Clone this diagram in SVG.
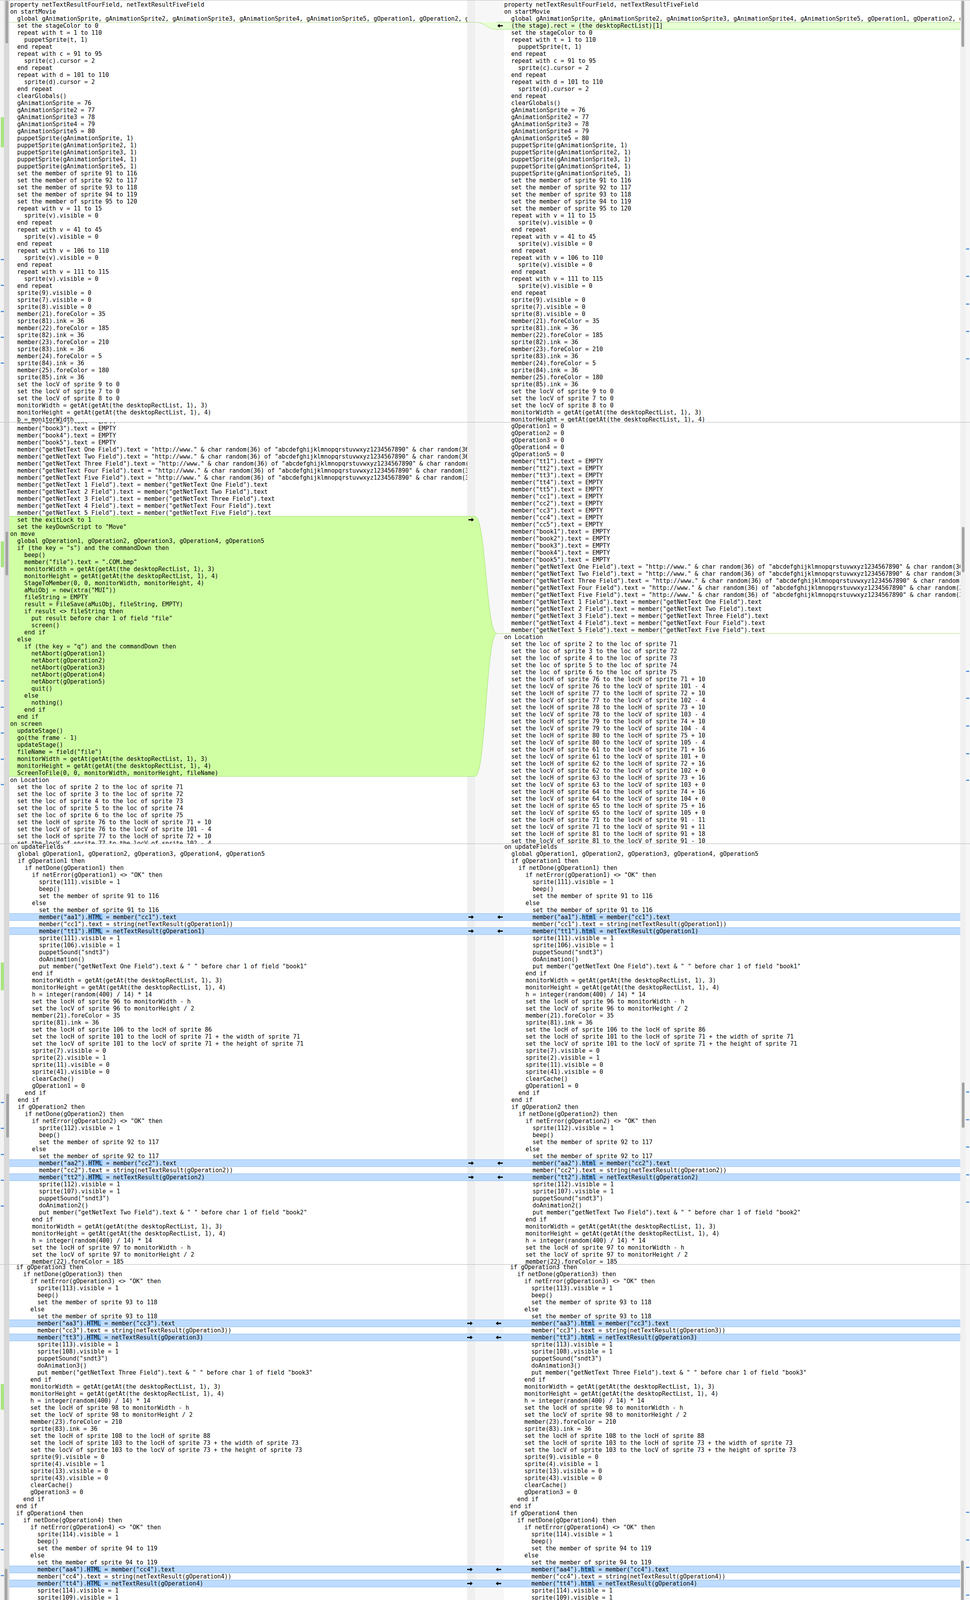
<svg xmlns="http://www.w3.org/2000/svg" xmlns:xlink="http://www.w3.org/1999/xlink" width="2483" height="7058" viewBox="0 0 2483 7058">
<style>
text{font-family:"DejaVu Sans Mono","Liberation Mono",monospace;font-size:15px;fill:#000;white-space:pre}
.gf{fill:#d0ffa3}.pf{fill:#e6ffd3}.bf{fill:#bedcff}.lf{fill:#dcecfd}
.go{stroke:#98dc66;stroke-width:1;fill:none}.bo{stroke:#86b6ec;stroke-width:1;fill:none}
.i{fill:#8cc1fa}.th{fill:#a3a3a3}.mk{fill:#4c8fdc}.mg{fill:#a8e67e}
.nl{stroke:#b0b0b0;stroke-width:1;fill:none}
</style>
<defs>
<path id="ar" d="M-7,-1.6 H1 V-5 L7,0 L1,5 V1.6 H-7 Z" fill="#000"/>
<path id="al" d="M7,-1.6 H-1 V-5 L-7,0 L-1,5 V1.6 H7 Z" fill="#000"/>
<path id="nl" d="M30,-3 V1 H3 M7,-2 L3,1 L7,4"/>
<clipPath id="cl1"><rect x="24" y="0" width="1172" height="1081"/></clipPath>
<clipPath id="cr1"><rect x="1286" y="0" width="1172" height="1081"/></clipPath>
<clipPath id="cl2"><rect x="24" y="1081" width="1172" height="1079"/></clipPath>
<clipPath id="cr2"><rect x="1286" y="1081" width="1172" height="1079"/></clipPath>
<clipPath id="cl3"><rect x="24" y="2160" width="1172" height="1077"/></clipPath>
<clipPath id="cr3"><rect x="1286" y="2160" width="1172" height="1077"/></clipPath>
<clipPath id="cl4"><rect x="20" y="3237" width="1173" height="1078"/></clipPath>
<clipPath id="cr4"><rect x="1284" y="3237" width="1172" height="1078"/></clipPath>
<clipPath id="cl5"><rect x="24" y="4315" width="1172" height="1078"/></clipPath>
<clipPath id="cr5"><rect x="1286" y="4315" width="1172" height="1078"/></clipPath>
<clipPath id="cl6"><rect x="24" y="5393" width="1172" height="390"/></clipPath>
<clipPath id="cr6"><rect x="1286" y="5393" width="1172" height="390"/></clipPath>
<clipPath id="cl7"><rect x="24" y="5783" width="1172" height="197"/></clipPath>
<clipPath id="cr7"><rect x="1286" y="5783" width="1172" height="197"/></clipPath>
<clipPath id="cl8"><rect x="28" y="5980" width="1168" height="1078"/></clipPath>
<clipPath id="cr8"><rect x="1290" y="5980" width="1168" height="1078"/></clipPath>
</defs>

<g id="chrome">
<rect x="0" y="0" width="2483" height="7058" fill="#ffffff"/>
<rect x="0" y="0" width="10" height="7058" fill="#f3f3f3"/>
<rect x="10" y="0" width="14" height="7058" fill="#d9d9d9"/>
<rect x="1196" y="0" width="20" height="7058" fill="#efefef"/>
<rect x="1216" y="0" width="74" height="7058" fill="#f7f7f7"/>
<rect x="2458" y="0" width="14" height="7058" fill="#f0f0f0"/>
<rect x="2472" y="0" width="11" height="7058" fill="#f6f6f6"/>
<rect class="th" x="14" y="2" width="7" height="109" rx="3"/>
<rect class="th" x="2461" y="2" width="7" height="118" rx="3"/>
<rect class="th" x="14" y="1361" width="7" height="112" rx="3"/>
<rect class="th" x="2462" y="1349" width="7" height="116" rx="3"/>
<rect class="th" x="16" y="2800" width="7" height="112" rx="3"/>
<rect class="th" x="2462" y="2771" width="7" height="116" rx="3"/>
<rect class="th" x="12" y="4016" width="7" height="107" rx="3"/>
<rect class="th" x="2460" y="3995" width="7" height="116" rx="3"/>
<rect class="th" x="16" y="5214" width="7" height="112" rx="3"/>
<rect class="th" x="2462" y="5202" width="7" height="116" rx="3"/>
<rect class="th" x="17" y="6134" width="7" height="924" rx="3"/>
<rect class="th" x="2465" y="6494" width="7" height="468" rx="3"/>
<g id="overview-markers">
<rect class="mg" x="2" y="300" width="8" height="77"/>
<rect class="mg" x="2" y="1386" width="8" height="66"/>
<rect class="mg" x="2" y="2464" width="8" height="71"/>
<rect class="mg" x="2" y="3543" width="8" height="66"/>
<rect class="mg" x="2" y="4617" width="8" height="71"/>
<rect class="mk" x="2" y="663" width="8" height="3"/><rect class="mk" x="2" y="729" width="8" height="3"/><rect class="mk" x="2" y="796" width="8" height="3"/><rect class="mk" x="2" y="862" width="8" height="3"/><rect class="mk" x="2" y="928" width="8" height="3"/>
<rect class="mk" x="2" y="1742" width="8" height="3"/><rect class="mk" x="2" y="1809" width="8" height="3"/><rect class="mk" x="2" y="1875" width="8" height="3"/><rect class="mk" x="2" y="1942" width="8" height="3"/><rect class="mk" x="2" y="2007" width="8" height="3"/>
<rect class="mk" x="2" y="2821" width="8" height="3"/><rect class="mk" x="2" y="2887" width="8" height="3"/><rect class="mk" x="2" y="2954" width="8" height="3"/><rect class="mk" x="2" y="3020" width="8" height="3"/><rect class="mk" x="2" y="3086" width="8" height="3"/>
<rect class="mk" x="2" y="3900" width="8" height="3"/><rect class="mk" x="2" y="3966" width="8" height="3"/><rect class="mk" x="2" y="4032" width="8" height="3"/><rect class="mk" x="2" y="4099" width="8" height="3"/><rect class="mk" x="2" y="4161" width="8" height="3"/>
<rect class="mk" x="2" y="4974" width="8" height="3"/><rect class="mk" x="2" y="5040" width="8" height="3"/><rect class="mk" x="2" y="5107" width="8" height="3"/><rect class="mk" x="2" y="5173" width="8" height="3"/><rect class="mk" x="2" y="5239" width="8" height="3"/>
<rect class="mk" x="2473" y="636" width="8" height="3"/><rect class="mk" x="2473" y="706" width="8" height="3"/><rect class="mk" x="2473" y="777" width="8" height="3"/><rect class="mk" x="2473" y="847" width="8" height="3"/><rect class="mk" x="2473" y="917" width="8" height="3"/>
<rect class="mk" x="2473" y="1717" width="8" height="3"/><rect class="mk" x="2473" y="1786" width="8" height="3"/><rect class="mk" x="2473" y="1857" width="8" height="3"/><rect class="mk" x="2473" y="1928" width="8" height="3"/><rect class="mk" x="2473" y="1996" width="8" height="3"/>
<rect class="mk" x="2473" y="2794" width="8" height="3"/><rect class="mk" x="2473" y="2865" width="8" height="3"/><rect class="mk" x="2473" y="2935" width="8" height="3"/><rect class="mk" x="2473" y="3006" width="8" height="3"/><rect class="mk" x="2473" y="3076" width="8" height="3"/>
<rect class="mk" x="2473" y="3870" width="8" height="3"/><rect class="mk" x="2473" y="3941" width="8" height="3"/><rect class="mk" x="2473" y="4011" width="8" height="3"/><rect class="mk" x="2473" y="4082" width="8" height="3"/><rect class="mk" x="2473" y="4151" width="8" height="3"/>
<rect class="mk" x="2473" y="4947" width="8" height="3"/><rect class="mk" x="2473" y="5018" width="8" height="3"/><rect class="mk" x="2473" y="5088" width="8" height="3"/><rect class="mk" x="2473" y="5159" width="8" height="3"/><rect class="mk" x="2473" y="5228" width="8" height="3"/>
</g>
<path d="M0 0.5H2483 M0 1081H2483 M0 2160H2483 M0 3237H2483 M0 4315H2483 M0 5393H2483 M0 5783H2483 M0 5980H2483" stroke="#c6c6c6" stroke-width="1.5" fill="none"/>
</g>

<g id="highlights">
<rect class="pf" x="1272" y="57" width="1186" height="18"/>
<path class="go" d="M24 57H1216 M1272 57H2458 M1272 75H2458"/>
<rect class="gf" x="24" y="1321.6" width="1192" height="666"/>
<path class="go" d="M24 1321.6H1216 M24 1987.6H1216 M1272 1621.8H2458"/>
<rect class="bf" x="24" y="2338.7" width="2434" height="18"/><rect class="bf" x="24" y="2374.7" width="2434" height="18"/>
<rect class="bf" x="24" y="2968.7" width="2434" height="18"/><rect class="bf" x="24" y="3004.7" width="2434" height="18"/>
<rect class="bf" x="24" y="3378.8" width="2434" height="18"/><rect class="bf" x="24" y="3414.8" width="2434" height="18"/>
<rect class="bf" x="24" y="4008.8" width="2434" height="18"/><rect class="bf" x="24" y="4044.8" width="2434" height="18"/>
<rect class="bf" x="24" y="4537.7" width="2434" height="18"/><rect class="bf" x="24" y="4573.7" width="2434" height="18"/>
<path class="bo" d="M24 2338.7H2458M24 2356.7H2458M24 2374.7H2458M24 2392.7H2458M24 2968.7H2458M24 2986.7H2458M24 3004.7H2458M24 3022.7H2458M24 3378.8H2458M24 3396.8H2458M24 3414.8H2458M24 3432.8H2458M24 4008.8H2458M24 4026.8H2458M24 4044.8H2458M24 4062.8H2458M24 4537.7H2458M24 4555.7H2458M24 4573.7H2458M24 4591.7H2458"/>
<rect class="lf" x="24" y="5411.6" width="1192" height="18"/><rect class="lf" x="1272" y="5411.6" width="1186" height="36"/>
<rect class="gf" x="1272" y="5465.6" width="1186" height="18"/>
<rect class="bf" x="24" y="5483.6" width="1192" height="18"/><rect class="bf" x="1272" y="5519.6" width="1186" height="18"/>
<rect class="bf" x="24" y="5519.6" width="1192" height="198"/><rect class="bf" x="1272" y="5555.6" width="1186" height="162"/>
<path class="bo" d="M24 5411.6H1216M24 5429.6H1216M1272 5411.6H2458M1272 5447.6H2458M24 5483.6H1216M24 5501.6H1216M1272 5519.6H2458M1272 5537.6H2458M24 5519.6H1216M24 5717.6H1216M1272 5555.6H2458M1272 5717.6H2458"/>
<path class="go" d="M24 5447.6H1216M1272 5465.6H2458M1272 5483.6H2458"/>
<rect class="lf" x="24" y="5815.8" width="1192" height="18"/><rect class="lf" x="1272" y="5815.8" width="1186" height="36"/>
<rect class="gf" x="1272" y="5869.8" width="1186" height="18"/>
<path class="bo" d="M24 5815.8H1216M24 5833.8H1216M1272 5815.8H2458M1272 5851.8H2458"/>
<path class="go" d="M24 5851.8H1216M1272 5869.8H2458M1272 5887.8H2458"/>
<rect class="lf" x="28" y="6737.7" width="1198" height="18"/>
<path class="bo" d="M28 6737.7H1226M28 6755.7H1226"/>
<rect class="gf" x="1277" y="6101.4" width="1181" height="956.6"/>
<path class="go" d="M1277 6101.4H2458M28 7043.7H1221"/>
</g>

<g id="connectors">
<path class="pf" d="M1216 57 C1244 57 1244 57 1272 57 L1272 75 C1244 75 1244 57 1216 57 Z"/>
<path class="go" d="M1216 57 C1244 57 1244 75 1272 75"/>
<path class="gf" d="M1216 1321.6 C1244 1321.6 1244 1621.8 1272 1621.8 C1244 1621.8 1244 1987.6 1216 1987.6 Z"/>
<path class="go" d="M1216 1321.6 C1244 1321.6 1244 1621.8 1272 1621.8 M1216 1987.6 C1244 1987.6 1244 1621.8 1272 1621.8"/>
<path class="lf" d="M1216 5411.6 C1244 5411.6 1244 5411.6 1272 5411.6 L1272 5447.6 C1244 5447.6 1244 5429.6 1216 5429.6 Z"/>
<path class="bo" d="M1216 5411.6 H1272 M1216 5429.6 C1244 5429.6 1244 5447.6 1272 5447.6"/>
<path class="gf" d="M1216 5447.6 C1244 5447.6 1244 5465.6 1272 5465.6 L1272 5483.6 C1244 5483.6 1244 5447.6 1216 5447.6 Z"/>
<path class="go" d="M1216 5447.6 C1244 5447.6 1244 5465.6 1272 5465.6 M1216 5447.6 C1244 5447.6 1244 5483.6 1272 5483.6"/>
<path class="bf" d="M1216 5483.6 C1244 5483.6 1244 5519.6 1272 5519.6 L1272 5537.6 C1244 5537.6 1244 5501.6 1216 5501.6 Z"/>
<path class="bo" d="M1216 5483.6 C1244 5483.6 1244 5519.6 1272 5519.6 M1216 5501.6 C1244 5501.6 1244 5537.6 1272 5537.6"/>
<path class="bf" d="M1216 5519.6 C1244 5519.6 1244 5555.6 1272 5555.6 L1272 5717.6 L1216 5717.6 Z"/>
<path class="bo" d="M1216 5519.6 C1244 5519.6 1244 5555.6 1272 5555.6 M1216 5717.6 H1272"/>
<path class="lf" d="M1216 5815.8 H1272 L1272 5851.8 C1244 5851.8 1244 5833.8 1216 5833.8 Z"/>
<path class="bo" d="M1216 5815.8 H1272 M1216 5833.8 C1244 5833.8 1244 5851.8 1272 5851.8"/>
<path class="gf" d="M1216 5851.8 C1244 5851.8 1244 5869.8 1272 5869.8 L1272 5887.8 C1244 5887.8 1244 5851.8 1216 5851.8 Z"/>
<path class="go" d="M1216 5851.8 C1244 5851.8 1244 5869.8 1272 5869.8 M1216 5851.8 C1244 5851.8 1244 5887.8 1272 5887.8"/>
<path class="gf" d="M1221 7043.7 C1249 7043.7 1249 6101.4 1277 6101.4 L1277 7650 C1249 7650 1249 7043.7 1221 7043.7 Z"/>
<path class="go" d="M1221 7043.7 C1249 7043.7 1249 6101.4 1277 6101.4"/>
</g>

<g id="inline-changes">
<rect class="i" x="226.2" y="2339.2" width="36.1" height="17"/><rect class="i" x="226.2" y="2375.2" width="36.1" height="17"/>
<rect class="i" x="226.2" y="2969.2" width="36.1" height="17"/><rect class="i" x="226.2" y="3005.2" width="36.1" height="17"/>
<rect class="i" x="1489.7" y="2339.2" width="36.1" height="17"/><rect class="i" x="1489.7" y="2375.2" width="36.1" height="17"/>
<rect class="i" x="1489.7" y="2969.2" width="36.1" height="17"/><rect class="i" x="1489.7" y="3005.2" width="36.1" height="17"/>
<rect class="i" x="222.2" y="3379.3" width="36.1" height="17"/><rect class="i" x="222.2" y="3415.3" width="36.1" height="17"/>
<rect class="i" x="222.2" y="4009.3" width="36.1" height="17"/><rect class="i" x="222.2" y="4045.3" width="36.1" height="17"/>
<rect class="i" x="1486.7" y="3379.3" width="36.1" height="17"/><rect class="i" x="1486.7" y="3415.3" width="36.1" height="17"/>
<rect class="i" x="1486.7" y="4009.3" width="36.1" height="17"/><rect class="i" x="1486.7" y="4045.3" width="36.1" height="17"/>
<rect class="i" x="226.2" y="4538.2" width="36.1" height="17"/><rect class="i" x="226.2" y="4574.2" width="36.1" height="17"/>
<rect class="i" x="1489.7" y="4538.2" width="36.1" height="17"/><rect class="i" x="1489.7" y="4574.2" width="36.1" height="17"/>
<rect class="i" x="108.8" y="5412.1" width="36.1" height="17"/><rect class="i" x="172" y="5412.1" width="72.2" height="17"/>
<rect class="i" x="199.1" y="5484.1" width="9" height="17"/>
<rect class="i" x="27.5" y="5520.1" width="478.6" height="17"/>
<rect class="i" x="27.5" y="5538.1" width="225.8" height="17"/>
<rect class="i" x="27.5" y="5556.1" width="36.1" height="17"/><rect class="i" x="126.8" y="5556.1" width="9" height="17"/>
<rect class="i" x="135.9" y="5574.1" width="9" height="17"/>
<rect class="i" x="298.4" y="5592.1" width="9" height="17"/><rect class="i" x="343.6" y="5592.1" width="27.1" height="17"/>
<rect class="i" x="135.9" y="5610.1" width="9" height="17"/>
<rect class="i" x="135.9" y="5628.1" width="9" height="17"/>
<rect class="i" x="235.2" y="5646.1" width="27.1" height="17"/>
<rect class="i" x="235.2" y="5664.1" width="9" height="17"/><rect class="i" x="560.3" y="5664.1" width="27.1" height="17"/>
<rect class="i" x="433.9" y="5682.1" width="27.1" height="17"/>
<rect class="i" x="153.9" y="5700.1" width="9" height="17"/>
<rect class="i" x="1306" y="5412.1" width="66.3" height="17"/>
<rect class="i" x="1372.3" y="5430.1" width="45.2" height="17"/><rect class="i" x="1444.5" y="5430.1" width="18.1" height="17"/>
<rect class="i" x="1462.6" y="5520.1" width="9" height="17"/>
<rect class="i" x="1390.3" y="5556.1" width="9" height="17"/>
<rect class="i" x="1399.4" y="5574.1" width="9" height="17"/>
<rect class="i" x="1561.9" y="5592.1" width="9" height="17"/><rect class="i" x="1607.1" y="5592.1" width="27.1" height="17"/>
<rect class="i" x="1399.4" y="5610.1" width="9" height="17"/>
<rect class="i" x="1399.4" y="5628.1" width="9" height="17"/>
<rect class="i" x="1498.7" y="5646.1" width="36.1" height="17"/>
<rect class="i" x="1498.7" y="5664.1" width="9" height="17"/><rect class="i" x="1823.8" y="5664.1" width="36.1" height="17"/>
<rect class="i" x="1697.4" y="5682.1" width="36.1" height="17"/>
<rect class="i" x="1417.4" y="5700.1" width="9" height="17"/>
<rect class="i" x="108.8" y="5816.3" width="36.1" height="17"/><rect class="i" x="172" y="5816.3" width="72.2" height="17"/>
<rect class="i" x="1306.5" y="5816.3" width="66.3" height="17"/>
<rect class="i" x="1372.8" y="5834.3" width="45.2" height="17"/><rect class="i" x="1445" y="5834.3" width="18.1" height="17"/>
<rect class="i" x="113.8" y="6738.2" width="36.1" height="17"/><rect class="i" x="177" y="6738.2" width="72.2" height="17"/>
</g>

<g id="panel1-left" clip-path="url(#cl1)"><text xml:space="preserve">
<tspan x="26" y="17">property netTextResultFourField, netTextResultFiveField</tspan>
<tspan x="26" y="35">on startMovie</tspan>
<tspan x="26" y="53">  global gAnimationSprite, gAnimationSprite2, gAnimationSprite3, gAnimationSprite4, gAnimationSprite5, gOperation1, gOperation2, g</tspan>
<tspan x="26" y="71">  set the stageColor to 0</tspan>
<tspan x="26" y="89">  repeat with t = 1 to 110</tspan>
<tspan x="26" y="107">    puppetSprite(t, 1)</tspan>
<tspan x="26" y="125">  end repeat</tspan>
<tspan x="26" y="143">  repeat with c = 91 to 95</tspan>
<tspan x="26" y="161">    sprite(c).cursor = 2</tspan>
<tspan x="26" y="179">  end repeat</tspan>
<tspan x="26" y="197">  repeat with d = 101 to 110</tspan>
<tspan x="26" y="215">    sprite(d).cursor = 2</tspan>
<tspan x="26" y="233">  end repeat</tspan>
<tspan x="26" y="251">  clearGlobals()</tspan>
<tspan x="26" y="269">  gAnimationSprite = 76</tspan>
<tspan x="26" y="287">  gAnimationSprite2 = 77</tspan>
<tspan x="26" y="305">  gAnimationSprite3 = 78</tspan>
<tspan x="26" y="323">  gAnimationSprite4 = 79</tspan>
<tspan x="26" y="341">  gAnimationSprite5 = 80</tspan>
<tspan x="26" y="359">  puppetSprite(gAnimationSprite, 1)</tspan>
<tspan x="26" y="377">  puppetSprite(gAnimationSprite2, 1)</tspan>
<tspan x="26" y="395">  puppetSprite(gAnimationSprite3, 1)</tspan>
<tspan x="26" y="413">  puppetSprite(gAnimationSprite4, 1)</tspan>
<tspan x="26" y="431">  puppetSprite(gAnimationSprite5, 1)</tspan>
<tspan x="26" y="449">  set the member of sprite 91 to 116</tspan>
<tspan x="26" y="467">  set the member of sprite 92 to 117</tspan>
<tspan x="26" y="485">  set the member of sprite 93 to 118</tspan>
<tspan x="26" y="503">  set the member of sprite 94 to 119</tspan>
<tspan x="26" y="521">  set the member of sprite 95 to 120</tspan>
<tspan x="26" y="539">  repeat with v = 11 to 15</tspan>
<tspan x="26" y="557">    sprite(v).visible = 0</tspan>
<tspan x="26" y="575">  end repeat</tspan>
<tspan x="26" y="593">  repeat with v = 41 to 45</tspan>
<tspan x="26" y="611">    sprite(v).visible = 0</tspan>
<tspan x="26" y="629">  end repeat</tspan>
<tspan x="26" y="647">  repeat with v = 106 to 110</tspan>
<tspan x="26" y="665">    sprite(v).visible = 0</tspan>
<tspan x="26" y="683">  end repeat</tspan>
<tspan x="26" y="701">  repeat with v = 111 to 115</tspan>
<tspan x="26" y="719">    sprite(v).visible = 0</tspan>
<tspan x="26" y="737">  end repeat</tspan>
<tspan x="26" y="755">  sprite(9).visible = 0</tspan>
<tspan x="26" y="773">  sprite(7).visible = 0</tspan>
<tspan x="26" y="791">  sprite(8).visible = 0</tspan>
<tspan x="26" y="809">  member(21).foreColor = 35</tspan>
<tspan x="26" y="827">  sprite(81).ink = 36</tspan>
<tspan x="26" y="845">  member(22).foreColor = 185</tspan>
<tspan x="26" y="863">  sprite(82).ink = 36</tspan>
<tspan x="26" y="881">  member(23).foreColor = 210</tspan>
<tspan x="26" y="899">  sprite(83).ink = 36</tspan>
<tspan x="26" y="917">  member(24).foreColor = 5</tspan>
<tspan x="26" y="935">  sprite(84).ink = 36</tspan>
<tspan x="26" y="953">  member(25).foreColor = 180</tspan>
<tspan x="26" y="971">  sprite(85).ink = 36</tspan>
<tspan x="26" y="989">  set the locV of sprite 9 to 0</tspan>
<tspan x="26" y="1007">  set the locV of sprite 7 to 0</tspan>
<tspan x="26" y="1025">  set the locV of sprite 8 to 0</tspan>
<tspan x="26" y="1043">  monitorWidth = getAt(getAt(the desktopRectList, 1), 3)</tspan>
<tspan x="26" y="1061">  monitorHeight = getAt(getAt(the desktopRectList, 1), 4)</tspan>
<tspan x="26" y="1079">  b = monitorWidth</tspan>
</text></g>

<g id="panel1-right" clip-path="url(#cr1)"><text xml:space="preserve">
<tspan x="1290.5" y="17">property netTextResultFourField, netTextResultFiveField</tspan>
<tspan x="1290.5" y="35">on startMovie</tspan>
<tspan x="1290.5" y="53">  global gAnimationSprite, gAnimationSprite2, gAnimationSprite3, gAnimationSprite4, gAnimationSprite5, gOperation1, gOperation2, g</tspan>
<tspan x="1290.5" y="71">  (the stage).rect = (the desktopRectList)[1]</tspan>
<tspan x="1290.5" y="89">  set the stageColor to 0</tspan>
<tspan x="1290.5" y="107">  repeat with t = 1 to 110</tspan>
<tspan x="1290.5" y="125">    puppetSprite(t, 1)</tspan>
<tspan x="1290.5" y="143">  end repeat</tspan>
<tspan x="1290.5" y="161">  repeat with c = 91 to 95</tspan>
<tspan x="1290.5" y="179">    sprite(c).cursor = 2</tspan>
<tspan x="1290.5" y="197">  end repeat</tspan>
<tspan x="1290.5" y="215">  repeat with d = 101 to 110</tspan>
<tspan x="1290.5" y="233">    sprite(d).cursor = 2</tspan>
<tspan x="1290.5" y="251">  end repeat</tspan>
<tspan x="1290.5" y="269">  clearGlobals()</tspan>
<tspan x="1290.5" y="287">  gAnimationSprite = 76</tspan>
<tspan x="1290.5" y="305">  gAnimationSprite2 = 77</tspan>
<tspan x="1290.5" y="323">  gAnimationSprite3 = 78</tspan>
<tspan x="1290.5" y="341">  gAnimationSprite4 = 79</tspan>
<tspan x="1290.5" y="359">  gAnimationSprite5 = 80</tspan>
<tspan x="1290.5" y="377">  puppetSprite(gAnimationSprite, 1)</tspan>
<tspan x="1290.5" y="395">  puppetSprite(gAnimationSprite2, 1)</tspan>
<tspan x="1290.5" y="413">  puppetSprite(gAnimationSprite3, 1)</tspan>
<tspan x="1290.5" y="431">  puppetSprite(gAnimationSprite4, 1)</tspan>
<tspan x="1290.5" y="449">  puppetSprite(gAnimationSprite5, 1)</tspan>
<tspan x="1290.5" y="467">  set the member of sprite 91 to 116</tspan>
<tspan x="1290.5" y="485">  set the member of sprite 92 to 117</tspan>
<tspan x="1290.5" y="503">  set the member of sprite 93 to 118</tspan>
<tspan x="1290.5" y="521">  set the member of sprite 94 to 119</tspan>
<tspan x="1290.5" y="539">  set the member of sprite 95 to 120</tspan>
<tspan x="1290.5" y="557">  repeat with v = 11 to 15</tspan>
<tspan x="1290.5" y="575">    sprite(v).visible = 0</tspan>
<tspan x="1290.5" y="593">  end repeat</tspan>
<tspan x="1290.5" y="611">  repeat with v = 41 to 45</tspan>
<tspan x="1290.5" y="629">    sprite(v).visible = 0</tspan>
<tspan x="1290.5" y="647">  end repeat</tspan>
<tspan x="1290.5" y="665">  repeat with v = 106 to 110</tspan>
<tspan x="1290.5" y="683">    sprite(v).visible = 0</tspan>
<tspan x="1290.5" y="701">  end repeat</tspan>
<tspan x="1290.5" y="719">  repeat with v = 111 to 115</tspan>
<tspan x="1290.5" y="737">    sprite(v).visible = 0</tspan>
<tspan x="1290.5" y="755">  end repeat</tspan>
<tspan x="1290.5" y="773">  sprite(9).visible = 0</tspan>
<tspan x="1290.5" y="791">  sprite(7).visible = 0</tspan>
<tspan x="1290.5" y="809">  sprite(8).visible = 0</tspan>
<tspan x="1290.5" y="827">  member(21).foreColor = 35</tspan>
<tspan x="1290.5" y="845">  sprite(81).ink = 36</tspan>
<tspan x="1290.5" y="863">  member(22).foreColor = 185</tspan>
<tspan x="1290.5" y="881">  sprite(82).ink = 36</tspan>
<tspan x="1290.5" y="899">  member(23).foreColor = 210</tspan>
<tspan x="1290.5" y="917">  sprite(83).ink = 36</tspan>
<tspan x="1290.5" y="935">  member(24).foreColor = 5</tspan>
<tspan x="1290.5" y="953">  sprite(84).ink = 36</tspan>
<tspan x="1290.5" y="971">  member(25).foreColor = 180</tspan>
<tspan x="1290.5" y="989">  sprite(85).ink = 36</tspan>
<tspan x="1290.5" y="1007">  set the locV of sprite 9 to 0</tspan>
<tspan x="1290.5" y="1025">  set the locV of sprite 7 to 0</tspan>
<tspan x="1290.5" y="1043">  set the locV of sprite 8 to 0</tspan>
<tspan x="1290.5" y="1061">  monitorWidth = getAt(getAt(the desktopRectList, 1), 3)</tspan>
<tspan x="1290.5" y="1079">  monitorHeight = getAt(getAt(the desktopRectList, 1), 4)</tspan>
</text></g>

<g id="panel2-left" clip-path="url(#cl2)"><text xml:space="preserve">
<tspan x="26" y="1083.6">  member("book2").text = EMPTY</tspan>
<tspan x="26" y="1101.6">  member("book3").text = EMPTY</tspan>
<tspan x="26" y="1119.6">  member("book4").text = EMPTY</tspan>
<tspan x="26" y="1137.6">  member("book5").text = EMPTY</tspan>
<tspan x="26" y="1155.6">  member("getNetText One Field").text = "http://www." &amp; char random(36) of "abcdefghijklmnopqrstuvwxyz1234567890" &amp; char random(36</tspan>
<tspan x="26" y="1173.6">  member("getNetText Two Field").text = "http://www." &amp; char random(36) of "abcdefghijklmnopqrstuvwxyz1234567890" &amp; char random(36</tspan>
<tspan x="26" y="1191.6">  member("getNetText Three Field").text = "http://www." &amp; char random(36) of "abcdefghijklmnopqrstuvwxyz1234567890" &amp; char random(</tspan>
<tspan x="26" y="1209.6">  member("getNetText Four Field").text = "http://www." &amp; char random(36) of "abcdefghijklmnopqrstuvwxyz1234567890" &amp; char random(3</tspan>
<tspan x="26" y="1227.6">  member("getNetText Five Field").text = "http://www." &amp; char random(36) of "abcdefghijklmnopqrstuvwxyz1234567890" &amp; char random(3</tspan>
<tspan x="26" y="1245.6">  member("getNetText 1 Field").text = member("getNetText One Field").text</tspan>
<tspan x="26" y="1263.6">  member("getNetText 2 Field").text = member("getNetText Two Field").text</tspan>
<tspan x="26" y="1281.6">  member("getNetText 3 Field").text = member("getNetText Three Field").text</tspan>
<tspan x="26" y="1299.6">  member("getNetText 4 Field").text = member("getNetText Four Field").text</tspan>
<tspan x="26" y="1317.6">  member("getNetText 5 Field").text = member("getNetText Five Field").text</tspan>
<tspan x="26" y="1335.6">  set the exitLock to 1</tspan>
<tspan x="26" y="1353.6">  set the keyDownScript to "Move"</tspan>
<tspan x="26" y="1371.6">on move</tspan>
<tspan x="26" y="1389.6">  global gOperation1, gOperation2, gOperation3, gOperation4, gOperation5</tspan>
<tspan x="26" y="1407.6">  if (the key = "s") and the commandDown then</tspan>
<tspan x="26" y="1425.6">    beep()</tspan>
<tspan x="26" y="1443.6">    member("file").text = ".COM.bmp"</tspan>
<tspan x="26" y="1461.6">    monitorWidth = getAt(getAt(the desktopRectList, 1), 3)</tspan>
<tspan x="26" y="1479.6">    monitorHeight = getAt(getAt(the desktopRectList, 1), 4)</tspan>
<tspan x="26" y="1497.6">    StageToMember(0, 0, monitorWidth, monitorHeight, 4)</tspan>
<tspan x="26" y="1515.6">    aMuiObj = new(xtra("MUI"))</tspan>
<tspan x="26" y="1533.6">    fileString = EMPTY</tspan>
<tspan x="26" y="1551.6">    result = FileSave(aMuiObj, fileString, EMPTY)</tspan>
<tspan x="26" y="1569.6">    if result &lt;&gt; fileString then</tspan>
<tspan x="26" y="1587.6">      put result before char 1 of field "file"</tspan>
<tspan x="26" y="1605.6">      screen()</tspan>
<tspan x="26" y="1623.6">    end if</tspan>
<tspan x="26" y="1641.6">  else</tspan>
<tspan x="26" y="1659.6">    if (the key = "q") and the commandDown then</tspan>
<tspan x="26" y="1677.6">      netAbort(gOperation1)</tspan>
<tspan x="26" y="1695.6">      netAbort(gOperation2)</tspan>
<tspan x="26" y="1713.6">      netAbort(gOperation3)</tspan>
<tspan x="26" y="1731.6">      netAbort(gOperation4)</tspan>
<tspan x="26" y="1749.6">      netAbort(gOperation5)</tspan>
<tspan x="26" y="1767.6">      quit()</tspan>
<tspan x="26" y="1785.6">    else</tspan>
<tspan x="26" y="1803.6">      nothing()</tspan>
<tspan x="26" y="1821.6">    end if</tspan>
<tspan x="26" y="1839.6">  end if</tspan>
<tspan x="26" y="1857.6">on screen</tspan>
<tspan x="26" y="1875.6">  updateStage()</tspan>
<tspan x="26" y="1893.6">  go(the frame - 1)</tspan>
<tspan x="26" y="1911.6">  updateStage()</tspan>
<tspan x="26" y="1929.6">  fileName = field("file")</tspan>
<tspan x="26" y="1947.6">  monitorWidth = getAt(getAt(the desktopRectList, 1), 3)</tspan>
<tspan x="26" y="1965.6">  monitorHeight = getAt(getAt(the desktopRectList, 1), 4)</tspan>
<tspan x="26" y="1983.6">  ScreenToFile(0, 0, monitorWidth, monitorHeight, fileName)</tspan>
<tspan x="26" y="2001.6">on Location</tspan>
<tspan x="26" y="2019.6">  set the loc of sprite 2 to the loc of sprite 71</tspan>
<tspan x="26" y="2037.6">  set the loc of sprite 3 to the loc of sprite 72</tspan>
<tspan x="26" y="2055.6">  set the loc of sprite 4 to the loc of sprite 73</tspan>
<tspan x="26" y="2073.6">  set the loc of sprite 5 to the loc of sprite 74</tspan>
<tspan x="26" y="2091.6">  set the loc of sprite 6 to the loc of sprite 75</tspan>
<tspan x="26" y="2109.6">  set the locH of sprite 76 to the locH of sprite 71 + 10</tspan>
<tspan x="26" y="2127.6">  set the locV of sprite 76 to the locV of sprite 101 - 4</tspan>
<tspan x="26" y="2145.6">  set the locH of sprite 77 to the locH of sprite 72 + 10</tspan>
<tspan x="26" y="2163.6">  set the locV of sprite 77 to the locV of sprite 102 - 4</tspan>
</text></g>

<g id="panel2-right" clip-path="url(#cr2)"><text xml:space="preserve">
<tspan x="1290.5" y="1095.8">  gOperation1 = 0</tspan>
<tspan x="1290.5" y="1113.8">  gOperation2 = 0</tspan>
<tspan x="1290.5" y="1131.8">  gOperation3 = 0</tspan>
<tspan x="1290.5" y="1149.8">  gOperation4 = 0</tspan>
<tspan x="1290.5" y="1167.8">  gOperation5 = 0</tspan>
<tspan x="1290.5" y="1185.8">  member("tt1").text = EMPTY</tspan>
<tspan x="1290.5" y="1203.8">  member("tt2").text = EMPTY</tspan>
<tspan x="1290.5" y="1221.8">  member("tt3").text = EMPTY</tspan>
<tspan x="1290.5" y="1239.8">  member("tt4").text = EMPTY</tspan>
<tspan x="1290.5" y="1257.8">  member("tt5").text = EMPTY</tspan>
<tspan x="1290.5" y="1275.8">  member("cc1").text = EMPTY</tspan>
<tspan x="1290.5" y="1293.8">  member("cc2").text = EMPTY</tspan>
<tspan x="1290.5" y="1311.8">  member("cc3").text = EMPTY</tspan>
<tspan x="1290.5" y="1329.8">  member("cc4").text = EMPTY</tspan>
<tspan x="1290.5" y="1347.8">  member("cc5").text = EMPTY</tspan>
<tspan x="1290.5" y="1365.8">  member("book1").text = EMPTY</tspan>
<tspan x="1290.5" y="1383.8">  member("book2").text = EMPTY</tspan>
<tspan x="1290.5" y="1401.8">  member("book3").text = EMPTY</tspan>
<tspan x="1290.5" y="1419.8">  member("book4").text = EMPTY</tspan>
<tspan x="1290.5" y="1437.8">  member("book5").text = EMPTY</tspan>
<tspan x="1290.5" y="1455.8">  member("getNetText One Field").text = "http://www." &amp; char random(36) of "abcdefghijklmnopqrstuvwxyz1234567890" &amp; char random(36</tspan>
<tspan x="1290.5" y="1473.8">  member("getNetText Two Field").text = "http://www." &amp; char random(36) of "abcdefghijklmnopqrstuvwxyz1234567890" &amp; char random(36</tspan>
<tspan x="1290.5" y="1491.8">  member("getNetText Three Field").text = "http://www." &amp; char random(36) of "abcdefghijklmnopqrstuvwxyz1234567890" &amp; char random(</tspan>
<tspan x="1290.5" y="1509.8">  member("getNetText Four Field").text = "http://www." &amp; char random(36) of "abcdefghijklmnopqrstuvwxyz1234567890" &amp; char random(3</tspan>
<tspan x="1290.5" y="1527.8">  member("getNetText Five Field").text = "http://www." &amp; char random(36) of "abcdefghijklmnopqrstuvwxyz1234567890" &amp; char random(3</tspan>
<tspan x="1290.5" y="1545.8">  member("getNetText 1 Field").text = member("getNetText One Field").text</tspan>
<tspan x="1290.5" y="1563.8">  member("getNetText 2 Field").text = member("getNetText Two Field").text</tspan>
<tspan x="1290.5" y="1581.8">  member("getNetText 3 Field").text = member("getNetText Three Field").text</tspan>
<tspan x="1290.5" y="1599.8">  member("getNetText 4 Field").text = member("getNetText Four Field").text</tspan>
<tspan x="1290.5" y="1617.8">  member("getNetText 5 Field").text = member("getNetText Five Field").text</tspan>
<tspan x="1290.5" y="1635.8">on Location</tspan>
<tspan x="1290.5" y="1653.8">  set the loc of sprite 2 to the loc of sprite 71</tspan>
<tspan x="1290.5" y="1671.8">  set the loc of sprite 3 to the loc of sprite 72</tspan>
<tspan x="1290.5" y="1689.8">  set the loc of sprite 4 to the loc of sprite 73</tspan>
<tspan x="1290.5" y="1707.8">  set the loc of sprite 5 to the loc of sprite 74</tspan>
<tspan x="1290.5" y="1725.8">  set the loc of sprite 6 to the loc of sprite 75</tspan>
<tspan x="1290.5" y="1743.8">  set the locH of sprite 76 to the locH of sprite 71 + 10</tspan>
<tspan x="1290.5" y="1761.8">  set the locV of sprite 76 to the locV of sprite 101 - 4</tspan>
<tspan x="1290.5" y="1779.8">  set the locH of sprite 77 to the locH of sprite 72 + 10</tspan>
<tspan x="1290.5" y="1797.8">  set the locV of sprite 77 to the locV of sprite 102 - 4</tspan>
<tspan x="1290.5" y="1815.8">  set the locH of sprite 78 to the locH of sprite 73 + 10</tspan>
<tspan x="1290.5" y="1833.8">  set the locV of sprite 78 to the locV of sprite 103 - 4</tspan>
<tspan x="1290.5" y="1851.8">  set the locH of sprite 79 to the locH of sprite 74 + 10</tspan>
<tspan x="1290.5" y="1869.8">  set the locV of sprite 79 to the locV of sprite 104 - 4</tspan>
<tspan x="1290.5" y="1887.8">  set the locH of sprite 80 to the locH of sprite 75 + 10</tspan>
<tspan x="1290.5" y="1905.8">  set the locV of sprite 80 to the locV of sprite 105 - 4</tspan>
<tspan x="1290.5" y="1923.8">  set the locH of sprite 61 to the locH of sprite 71 + 16</tspan>
<tspan x="1290.5" y="1941.8">  set the locV of sprite 61 to the locV of sprite 101 + 0</tspan>
<tspan x="1290.5" y="1959.8">  set the locH of sprite 62 to the locH of sprite 72 + 16</tspan>
<tspan x="1290.5" y="1977.8">  set the locV of sprite 62 to the locV of sprite 102 + 0</tspan>
<tspan x="1290.5" y="1995.8">  set the locH of sprite 63 to the locH of sprite 73 + 16</tspan>
<tspan x="1290.5" y="2013.8">  set the locV of sprite 63 to the locV of sprite 103 + 0</tspan>
<tspan x="1290.5" y="2031.8">  set the locH of sprite 64 to the locH of sprite 74 + 16</tspan>
<tspan x="1290.5" y="2049.8">  set the locV of sprite 64 to the locV of sprite 104 + 0</tspan>
<tspan x="1290.5" y="2067.8">  set the locH of sprite 65 to the locH of sprite 75 + 16</tspan>
<tspan x="1290.5" y="2085.8">  set the locV of sprite 65 to the locV of sprite 105 + 0</tspan>
<tspan x="1290.5" y="2103.8">  set the locH of sprite 71 to the locH of sprite 91 - 11</tspan>
<tspan x="1290.5" y="2121.8">  set the locV of sprite 71 to the locV of sprite 91 + 11</tspan>
<tspan x="1290.5" y="2139.8">  set the locH of sprite 81 to the locH of sprite 91 + 18</tspan>
<tspan x="1290.5" y="2157.8">  set the locV of sprite 81 to the locV of sprite 91 - 10</tspan>
</text></g>

<g id="panel3-left" clip-path="url(#cl3)"><text xml:space="preserve">
<tspan x="27.5" y="2172.7">on updateFields</tspan>
<tspan x="27.5" y="2190.7">  global gOperation1, gOperation2, gOperation3, gOperation4, gOperation5</tspan>
<tspan x="27.5" y="2208.7">  if gOperation1 then</tspan>
<tspan x="27.5" y="2226.7">    if netDone(gOperation1) then</tspan>
<tspan x="27.5" y="2244.7">      if netError(gOperation1) &lt;&gt; "OK" then</tspan>
<tspan x="27.5" y="2262.7">        sprite(111).visible = 1</tspan>
<tspan x="27.5" y="2280.7">        beep()</tspan>
<tspan x="27.5" y="2298.7">        set the member of sprite 91 to 116</tspan>
<tspan x="27.5" y="2316.7">      else</tspan>
<tspan x="27.5" y="2334.7">        set the member of sprite 91 to 116</tspan>
<tspan x="27.5" y="2352.7">        member("aa1").HTML = member("cc1").text</tspan>
<tspan x="27.5" y="2370.7">        member("cc1").text = string(netTextResult(gOperation1))</tspan>
<tspan x="27.5" y="2388.7">        member("tt1").HTML = netTextResult(gOperation1)</tspan>
<tspan x="27.5" y="2406.7">        sprite(111).visible = 1</tspan>
<tspan x="27.5" y="2424.7">        sprite(106).visible = 1</tspan>
<tspan x="27.5" y="2442.7">        puppetSound("sndt3")</tspan>
<tspan x="27.5" y="2460.7">        doAnimation()</tspan>
<tspan x="27.5" y="2478.7">        put member("getNetText One Field").text &amp; " " before char 1 of field "book1"</tspan>
<tspan x="27.5" y="2496.7">      end if</tspan>
<tspan x="27.5" y="2514.7">      monitorWidth = getAt(getAt(the desktopRectList, 1), 3)</tspan>
<tspan x="27.5" y="2532.7">      monitorHeight = getAt(getAt(the desktopRectList, 1), 4)</tspan>
<tspan x="27.5" y="2550.7">      h = integer(random(400) / 14) * 14</tspan>
<tspan x="27.5" y="2568.7">      set the locH of sprite 96 to monitorWidth - h</tspan>
<tspan x="27.5" y="2586.7">      set the locV of sprite 96 to monitorHeight / 2</tspan>
<tspan x="27.5" y="2604.7">      member(21).foreColor = 35</tspan>
<tspan x="27.5" y="2622.7">      sprite(81).ink = 36</tspan>
<tspan x="27.5" y="2640.7">      set the locH of sprite 106 to the locH of sprite 86</tspan>
<tspan x="27.5" y="2658.7">      set the locH of sprite 101 to the locH of sprite 71 + the width of sprite 71</tspan>
<tspan x="27.5" y="2676.7">      set the locV of sprite 101 to the locV of sprite 71 + the height of sprite 71</tspan>
<tspan x="27.5" y="2694.7">      sprite(7).visible = 0</tspan>
<tspan x="27.5" y="2712.7">      sprite(2).visible = 1</tspan>
<tspan x="27.5" y="2730.7">      sprite(11).visible = 0</tspan>
<tspan x="27.5" y="2748.7">      sprite(41).visible = 0</tspan>
<tspan x="27.5" y="2766.7">      clearCache()</tspan>
<tspan x="27.5" y="2784.7">      gOperation1 = 0</tspan>
<tspan x="27.5" y="2802.7">    end if</tspan>
<tspan x="27.5" y="2820.7">  end if</tspan>
<tspan x="27.5" y="2838.7">  if gOperation2 then</tspan>
<tspan x="27.5" y="2856.7">    if netDone(gOperation2) then</tspan>
<tspan x="27.5" y="2874.7">      if netError(gOperation2) &lt;&gt; "OK" then</tspan>
<tspan x="27.5" y="2892.7">        sprite(112).visible = 1</tspan>
<tspan x="27.5" y="2910.7">        beep()</tspan>
<tspan x="27.5" y="2928.7">        set the member of sprite 92 to 117</tspan>
<tspan x="27.5" y="2946.7">      else</tspan>
<tspan x="27.5" y="2964.7">        set the member of sprite 92 to 117</tspan>
<tspan x="27.5" y="2982.7">        member("aa2").HTML = member("cc2").text</tspan>
<tspan x="27.5" y="3000.7">        member("cc2").text = string(netTextResult(gOperation2))</tspan>
<tspan x="27.5" y="3018.7">        member("tt2").HTML = netTextResult(gOperation2)</tspan>
<tspan x="27.5" y="3036.7">        sprite(112).visible = 1</tspan>
<tspan x="27.5" y="3054.7">        sprite(107).visible = 1</tspan>
<tspan x="27.5" y="3072.7">        puppetSound("sndt3")</tspan>
<tspan x="27.5" y="3090.7">        doAnimation2()</tspan>
<tspan x="27.5" y="3108.7">        put member("getNetText Two Field").text &amp; " " before char 1 of field "book2"</tspan>
<tspan x="27.5" y="3126.7">      end if</tspan>
<tspan x="27.5" y="3144.7">      monitorWidth = getAt(getAt(the desktopRectList, 1), 3)</tspan>
<tspan x="27.5" y="3162.7">      monitorHeight = getAt(getAt(the desktopRectList, 1), 4)</tspan>
<tspan x="27.5" y="3180.7">      h = integer(random(400) / 14) * 14</tspan>
<tspan x="27.5" y="3198.7">      set the locH of sprite 97 to monitorWidth - h</tspan>
<tspan x="27.5" y="3216.7">      set the locV of sprite 97 to monitorHeight / 2</tspan>
<tspan x="27.5" y="3234.7">      member(22).foreColor = 185</tspan>
</text></g>

<g id="panel3-right" clip-path="url(#cr3)"><text xml:space="preserve">
<tspan x="1291" y="2172.7">on updateFields</tspan>
<tspan x="1291" y="2190.7">  global gOperation1, gOperation2, gOperation3, gOperation4, gOperation5</tspan>
<tspan x="1291" y="2208.7">  if gOperation1 then</tspan>
<tspan x="1291" y="2226.7">    if netDone(gOperation1) then</tspan>
<tspan x="1291" y="2244.7">      if netError(gOperation1) &lt;&gt; "OK" then</tspan>
<tspan x="1291" y="2262.7">        sprite(111).visible = 1</tspan>
<tspan x="1291" y="2280.7">        beep()</tspan>
<tspan x="1291" y="2298.7">        set the member of sprite 91 to 116</tspan>
<tspan x="1291" y="2316.7">      else</tspan>
<tspan x="1291" y="2334.7">        set the member of sprite 91 to 116</tspan>
<tspan x="1291" y="2352.7">        member("aa1").html = member("cc1").text</tspan>
<tspan x="1291" y="2370.7">        member("cc1").text = string(netTextResult(gOperation1))</tspan>
<tspan x="1291" y="2388.7">        member("tt1").html = netTextResult(gOperation1)</tspan>
<tspan x="1291" y="2406.7">        sprite(111).visible = 1</tspan>
<tspan x="1291" y="2424.7">        sprite(106).visible = 1</tspan>
<tspan x="1291" y="2442.7">        puppetSound("sndt3")</tspan>
<tspan x="1291" y="2460.7">        doAnimation()</tspan>
<tspan x="1291" y="2478.7">        put member("getNetText One Field").text &amp; " " before char 1 of field "book1"</tspan>
<tspan x="1291" y="2496.7">      end if</tspan>
<tspan x="1291" y="2514.7">      monitorWidth = getAt(getAt(the desktopRectList, 1), 3)</tspan>
<tspan x="1291" y="2532.7">      monitorHeight = getAt(getAt(the desktopRectList, 1), 4)</tspan>
<tspan x="1291" y="2550.7">      h = integer(random(400) / 14) * 14</tspan>
<tspan x="1291" y="2568.7">      set the locH of sprite 96 to monitorWidth - h</tspan>
<tspan x="1291" y="2586.7">      set the locV of sprite 96 to monitorHeight / 2</tspan>
<tspan x="1291" y="2604.7">      member(21).foreColor = 35</tspan>
<tspan x="1291" y="2622.7">      sprite(81).ink = 36</tspan>
<tspan x="1291" y="2640.7">      set the locH of sprite 106 to the locH of sprite 86</tspan>
<tspan x="1291" y="2658.7">      set the locH of sprite 101 to the locH of sprite 71 + the width of sprite 71</tspan>
<tspan x="1291" y="2676.7">      set the locV of sprite 101 to the locV of sprite 71 + the height of sprite 71</tspan>
<tspan x="1291" y="2694.7">      sprite(7).visible = 0</tspan>
<tspan x="1291" y="2712.7">      sprite(2).visible = 1</tspan>
<tspan x="1291" y="2730.7">      sprite(11).visible = 0</tspan>
<tspan x="1291" y="2748.7">      sprite(41).visible = 0</tspan>
<tspan x="1291" y="2766.7">      clearCache()</tspan>
<tspan x="1291" y="2784.7">      gOperation1 = 0</tspan>
<tspan x="1291" y="2802.7">    end if</tspan>
<tspan x="1291" y="2820.7">  end if</tspan>
<tspan x="1291" y="2838.7">  if gOperation2 then</tspan>
<tspan x="1291" y="2856.7">    if netDone(gOperation2) then</tspan>
<tspan x="1291" y="2874.7">      if netError(gOperation2) &lt;&gt; "OK" then</tspan>
<tspan x="1291" y="2892.7">        sprite(112).visible = 1</tspan>
<tspan x="1291" y="2910.7">        beep()</tspan>
<tspan x="1291" y="2928.7">        set the member of sprite 92 to 117</tspan>
<tspan x="1291" y="2946.7">      else</tspan>
<tspan x="1291" y="2964.7">        set the member of sprite 92 to 117</tspan>
<tspan x="1291" y="2982.7">        member("aa2").html = member("cc2").text</tspan>
<tspan x="1291" y="3000.7">        member("cc2").text = string(netTextResult(gOperation2))</tspan>
<tspan x="1291" y="3018.7">        member("tt2").html = netTextResult(gOperation2)</tspan>
<tspan x="1291" y="3036.7">        sprite(112).visible = 1</tspan>
<tspan x="1291" y="3054.7">        sprite(107).visible = 1</tspan>
<tspan x="1291" y="3072.7">        puppetSound("sndt3")</tspan>
<tspan x="1291" y="3090.7">        doAnimation2()</tspan>
<tspan x="1291" y="3108.7">        put member("getNetText Two Field").text &amp; " " before char 1 of field "book2"</tspan>
<tspan x="1291" y="3126.7">      end if</tspan>
<tspan x="1291" y="3144.7">      monitorWidth = getAt(getAt(the desktopRectList, 1), 3)</tspan>
<tspan x="1291" y="3162.7">      monitorHeight = getAt(getAt(the desktopRectList, 1), 4)</tspan>
<tspan x="1291" y="3180.7">      h = integer(random(400) / 14) * 14</tspan>
<tspan x="1291" y="3198.7">      set the locH of sprite 97 to monitorWidth - h</tspan>
<tspan x="1291" y="3216.7">      set the locV of sprite 97 to monitorHeight / 2</tspan>
<tspan x="1291" y="3234.7">      member(22).foreColor = 185</tspan>
</text></g>

<g id="panel4-left" clip-path="url(#cl4)"><text xml:space="preserve">
<tspan x="23.5" y="3248.8">  if gOperation3 then</tspan>
<tspan x="23.5" y="3266.8">    if netDone(gOperation3) then</tspan>
<tspan x="23.5" y="3284.8">      if netError(gOperation3) &lt;&gt; "OK" then</tspan>
<tspan x="23.5" y="3302.8">        sprite(113).visible = 1</tspan>
<tspan x="23.5" y="3320.8">        beep()</tspan>
<tspan x="23.5" y="3338.8">        set the member of sprite 93 to 118</tspan>
<tspan x="23.5" y="3356.8">      else</tspan>
<tspan x="23.5" y="3374.8">        set the member of sprite 93 to 118</tspan>
<tspan x="23.5" y="3392.8">        member("aa3").HTML = member("cc3").text</tspan>
<tspan x="23.5" y="3410.8">        member("cc3").text = string(netTextResult(gOperation3))</tspan>
<tspan x="23.5" y="3428.8">        member("tt3").HTML = netTextResult(gOperation3)</tspan>
<tspan x="23.5" y="3446.8">        sprite(113).visible = 1</tspan>
<tspan x="23.5" y="3464.8">        sprite(108).visible = 1</tspan>
<tspan x="23.5" y="3482.8">        puppetSound("sndt3")</tspan>
<tspan x="23.5" y="3500.8">        doAnimation3()</tspan>
<tspan x="23.5" y="3518.8">        put member("getNetText Three Field").text &amp; " " before char 1 of field "book3"</tspan>
<tspan x="23.5" y="3536.8">      end if</tspan>
<tspan x="23.5" y="3554.8">      monitorWidth = getAt(getAt(the desktopRectList, 1), 3)</tspan>
<tspan x="23.5" y="3572.8">      monitorHeight = getAt(getAt(the desktopRectList, 1), 4)</tspan>
<tspan x="23.5" y="3590.8">      h = integer(random(400) / 14) * 14</tspan>
<tspan x="23.5" y="3608.8">      set the locH of sprite 98 to monitorWidth - h</tspan>
<tspan x="23.5" y="3626.8">      set the locV of sprite 98 to monitorHeight / 2</tspan>
<tspan x="23.5" y="3644.8">      member(23).foreColor = 210</tspan>
<tspan x="23.5" y="3662.8">      sprite(83).ink = 36</tspan>
<tspan x="23.5" y="3680.8">      set the locH of sprite 108 to the locH of sprite 88</tspan>
<tspan x="23.5" y="3698.8">      set the locH of sprite 103 to the locH of sprite 73 + the width of sprite 73</tspan>
<tspan x="23.5" y="3716.8">      set the locV of sprite 103 to the locV of sprite 73 + the height of sprite 73</tspan>
<tspan x="23.5" y="3734.8">      sprite(9).visible = 0</tspan>
<tspan x="23.5" y="3752.8">      sprite(4).visible = 1</tspan>
<tspan x="23.5" y="3770.8">      sprite(13).visible = 0</tspan>
<tspan x="23.5" y="3788.8">      sprite(43).visible = 0</tspan>
<tspan x="23.5" y="3806.8">      clearCache()</tspan>
<tspan x="23.5" y="3824.8">      gOperation3 = 0</tspan>
<tspan x="23.5" y="3842.8">    end if</tspan>
<tspan x="23.5" y="3860.8">  end if</tspan>
<tspan x="23.5" y="3878.8">  if gOperation4 then</tspan>
<tspan x="23.5" y="3896.8">    if netDone(gOperation4) then</tspan>
<tspan x="23.5" y="3914.8">      if netError(gOperation4) &lt;&gt; "OK" then</tspan>
<tspan x="23.5" y="3932.8">        sprite(114).visible = 1</tspan>
<tspan x="23.5" y="3950.8">        beep()</tspan>
<tspan x="23.5" y="3968.8">        set the member of sprite 94 to 119</tspan>
<tspan x="23.5" y="3986.8">      else</tspan>
<tspan x="23.5" y="4004.8">        set the member of sprite 94 to 119</tspan>
<tspan x="23.5" y="4022.8">        member("aa4").HTML = member("cc4").text</tspan>
<tspan x="23.5" y="4040.8">        member("cc4").text = string(netTextResult(gOperation4))</tspan>
<tspan x="23.5" y="4058.8">        member("tt4").HTML = netTextResult(gOperation4)</tspan>
<tspan x="23.5" y="4076.8">        sprite(114).visible = 1</tspan>
<tspan x="23.5" y="4094.8">        sprite(109).visible = 1</tspan>
<tspan x="23.5" y="4112.8">        puppetSound("sndt3")</tspan>
<tspan x="23.5" y="4130.8">        doAnimation4()</tspan>
<tspan x="23.5" y="4148.8">        put member("getNetText Four Field").text &amp; " " before char 1 of field "book4"</tspan>
<tspan x="23.5" y="4166.8">      end if</tspan>
<tspan x="23.5" y="4184.8">      monitorWidth = getAt(getAt(the desktopRectList, 1), 3)</tspan>
<tspan x="23.5" y="4202.8">      monitorHeight = getAt(getAt(the desktopRectList, 1), 4)</tspan>
<tspan x="23.5" y="4220.8">      h = integer(random(400) / 14) * 14</tspan>
<tspan x="23.5" y="4238.8">      set the locH of sprite 99 to monitorWidth - h</tspan>
<tspan x="23.5" y="4256.8">      set the locV of sprite 99 to monitorHeight / 2</tspan>
<tspan x="23.5" y="4274.8">      member(24).foreColor = 5</tspan>
<tspan x="23.5" y="4292.8">      sprite(84).ink = 36</tspan>
<tspan x="23.5" y="4310.8">      set the locH of sprite 109 to the locH of sprite 89</tspan>
</text></g>

<g id="panel4-right" clip-path="url(#cr4)"><text xml:space="preserve">
<tspan x="1288" y="3248.8">  if gOperation3 then</tspan>
<tspan x="1288" y="3266.8">    if netDone(gOperation3) then</tspan>
<tspan x="1288" y="3284.8">      if netError(gOperation3) &lt;&gt; "OK" then</tspan>
<tspan x="1288" y="3302.8">        sprite(113).visible = 1</tspan>
<tspan x="1288" y="3320.8">        beep()</tspan>
<tspan x="1288" y="3338.8">        set the member of sprite 93 to 118</tspan>
<tspan x="1288" y="3356.8">      else</tspan>
<tspan x="1288" y="3374.8">        set the member of sprite 93 to 118</tspan>
<tspan x="1288" y="3392.8">        member("aa3").html = member("cc3").text</tspan>
<tspan x="1288" y="3410.8">        member("cc3").text = string(netTextResult(gOperation3))</tspan>
<tspan x="1288" y="3428.8">        member("tt3").html = netTextResult(gOperation3)</tspan>
<tspan x="1288" y="3446.8">        sprite(113).visible = 1</tspan>
<tspan x="1288" y="3464.8">        sprite(108).visible = 1</tspan>
<tspan x="1288" y="3482.8">        puppetSound("sndt3")</tspan>
<tspan x="1288" y="3500.8">        doAnimation3()</tspan>
<tspan x="1288" y="3518.8">        put member("getNetText Three Field").text &amp; " " before char 1 of field "book3"</tspan>
<tspan x="1288" y="3536.8">      end if</tspan>
<tspan x="1288" y="3554.8">      monitorWidth = getAt(getAt(the desktopRectList, 1), 3)</tspan>
<tspan x="1288" y="3572.8">      monitorHeight = getAt(getAt(the desktopRectList, 1), 4)</tspan>
<tspan x="1288" y="3590.8">      h = integer(random(400) / 14) * 14</tspan>
<tspan x="1288" y="3608.8">      set the locH of sprite 98 to monitorWidth - h</tspan>
<tspan x="1288" y="3626.8">      set the locV of sprite 98 to monitorHeight / 2</tspan>
<tspan x="1288" y="3644.8">      member(23).foreColor = 210</tspan>
<tspan x="1288" y="3662.8">      sprite(83).ink = 36</tspan>
<tspan x="1288" y="3680.8">      set the locH of sprite 108 to the locH of sprite 88</tspan>
<tspan x="1288" y="3698.8">      set the locH of sprite 103 to the locH of sprite 73 + the width of sprite 73</tspan>
<tspan x="1288" y="3716.8">      set the locV of sprite 103 to the locV of sprite 73 + the height of sprite 73</tspan>
<tspan x="1288" y="3734.8">      sprite(9).visible = 0</tspan>
<tspan x="1288" y="3752.8">      sprite(4).visible = 1</tspan>
<tspan x="1288" y="3770.8">      sprite(13).visible = 0</tspan>
<tspan x="1288" y="3788.8">      sprite(43).visible = 0</tspan>
<tspan x="1288" y="3806.8">      clearCache()</tspan>
<tspan x="1288" y="3824.8">      gOperation3 = 0</tspan>
<tspan x="1288" y="3842.8">    end if</tspan>
<tspan x="1288" y="3860.8">  end if</tspan>
<tspan x="1288" y="3878.8">  if gOperation4 then</tspan>
<tspan x="1288" y="3896.8">    if netDone(gOperation4) then</tspan>
<tspan x="1288" y="3914.8">      if netError(gOperation4) &lt;&gt; "OK" then</tspan>
<tspan x="1288" y="3932.8">        sprite(114).visible = 1</tspan>
<tspan x="1288" y="3950.8">        beep()</tspan>
<tspan x="1288" y="3968.8">        set the member of sprite 94 to 119</tspan>
<tspan x="1288" y="3986.8">      else</tspan>
<tspan x="1288" y="4004.8">        set the member of sprite 94 to 119</tspan>
<tspan x="1288" y="4022.8">        member("aa4").html = member("cc4").text</tspan>
<tspan x="1288" y="4040.8">        member("cc4").text = string(netTextResult(gOperation4))</tspan>
<tspan x="1288" y="4058.8">        member("tt4").html = netTextResult(gOperation4)</tspan>
<tspan x="1288" y="4076.8">        sprite(114).visible = 1</tspan>
<tspan x="1288" y="4094.8">        sprite(109).visible = 1</tspan>
<tspan x="1288" y="4112.8">        puppetSound("sndt3")</tspan>
<tspan x="1288" y="4130.8">        doAnimation4()</tspan>
<tspan x="1288" y="4148.8">        put member("getNetText Four Field").text &amp; " " before char 1 of field "book4"</tspan>
<tspan x="1288" y="4166.8">      end if</tspan>
<tspan x="1288" y="4184.8">      monitorWidth = getAt(getAt(the desktopRectList, 1), 3)</tspan>
<tspan x="1288" y="4202.8">      monitorHeight = getAt(getAt(the desktopRectList, 1), 4)</tspan>
<tspan x="1288" y="4220.8">      h = integer(random(400) / 14) * 14</tspan>
<tspan x="1288" y="4238.8">      set the locH of sprite 99 to monitorWidth - h</tspan>
<tspan x="1288" y="4256.8">      set the locV of sprite 99 to monitorHeight / 2</tspan>
<tspan x="1288" y="4274.8">      member(24).foreColor = 5</tspan>
<tspan x="1288" y="4292.8">      sprite(84).ink = 36</tspan>
<tspan x="1288" y="4310.8">      set the locH of sprite 109 to the locH of sprite 89</tspan>
</text></g>

<g id="panel5-left" clip-path="url(#cl5)"><text xml:space="preserve">
<tspan x="27.5" y="4317.7">      sprite(44).visible = 0</tspan>
<tspan x="27.5" y="4335.7">      clearCache()</tspan>
<tspan x="27.5" y="4353.7">      gOperation4 = 0</tspan>
<tspan x="27.5" y="4371.7">    end if</tspan>
<tspan x="27.5" y="4389.7">  end if</tspan>
<tspan x="27.5" y="4407.7">  if gOperation5 then</tspan>
<tspan x="27.5" y="4425.7">    if netDone(gOperation5) then</tspan>
<tspan x="27.5" y="4443.7">      if netError(gOperation5) &lt;&gt; "OK" then</tspan>
<tspan x="27.5" y="4461.7">        sprite(115).visible = 1</tspan>
<tspan x="27.5" y="4479.7">        beep()</tspan>
<tspan x="27.5" y="4497.7">        set the member of sprite 95 to 120</tspan>
<tspan x="27.5" y="4515.7">      else</tspan>
<tspan x="27.5" y="4533.7">        set the member of sprite 95 to 120</tspan>
<tspan x="27.5" y="4551.7">        member("aa5").HTML = member("cc5").text</tspan>
<tspan x="27.5" y="4569.7">        member("cc5").text = string(netTextResult(gOperation5))</tspan>
<tspan x="27.5" y="4587.7">        member("tt5").HTML = netTextResult(gOperation5)</tspan>
<tspan x="27.5" y="4605.7">        sprite(115).visible = 1</tspan>
<tspan x="27.5" y="4623.7">        sprite(110).visible = 1</tspan>
<tspan x="27.5" y="4641.7">        puppetSound("sndt3")</tspan>
<tspan x="27.5" y="4659.7">        doAnimation5()</tspan>
<tspan x="27.5" y="4677.7">        put member("getNetText Five Field").text &amp; " " before char 1 of field "book5"</tspan>
<tspan x="27.5" y="4695.7">      end if</tspan>
<tspan x="27.5" y="4713.7">      monitorWidth = getAt(getAt(the desktopRectList, 1), 3)</tspan>
<tspan x="27.5" y="4731.7">      monitorHeight = getAt(getAt(the desktopRectList, 1), 4)</tspan>
<tspan x="27.5" y="4749.7">      h = integer(random(400) / 14) * 14</tspan>
<tspan x="27.5" y="4767.7">      set the locH of sprite 100 to monitorWidth - h</tspan>
<tspan x="27.5" y="4785.7">      set the locV of sprite 100 to monitorHeight / 2</tspan>
<tspan x="27.5" y="4803.7">      member(25).foreColor = 180</tspan>
<tspan x="27.5" y="4821.7">      sprite(85).ink = 36</tspan>
<tspan x="27.5" y="4839.7">      set the locH of sprite 110 to the locH of sprite 90</tspan>
<tspan x="27.5" y="4857.7">      set the locH of sprite 105 to the locH of sprite 75 + the width of sprite 75</tspan>
<tspan x="27.5" y="4875.7">      set the locV of sprite 105 to the locV of sprite 75 + the height of sprite 75</tspan>
<tspan x="27.5" y="4893.7">      sprite(6).visible = 1</tspan>
<tspan x="27.5" y="4911.7">      sprite(15).visible = 0</tspan>
<tspan x="27.5" y="4929.7">      sprite(45).visible = 0</tspan>
<tspan x="27.5" y="4947.7">      clearCache()</tspan>
<tspan x="27.5" y="4965.7">      gOperation5 = 0</tspan>
<tspan x="27.5" y="4983.7">    end if</tspan>
<tspan x="27.5" y="5001.7">  end if</tspan>
<tspan x="27.5" y="5019.7">on doAnimation</tspan>
<tspan x="27.5" y="5037.7">  global gAnimationSprite</tspan>
<tspan x="27.5" y="5055.7">  if (the member of sprite gAnimationSprite).number = the number of member "End" then</tspan>
<tspan x="27.5" y="5073.7">    set the member of sprite gAnimationSprite to (the member of sprite gAnimationSprite).number</tspan>
<tspan x="27.5" y="5091.7">  else</tspan>
<tspan x="27.5" y="5109.7">    set the member of sprite gAnimationSprite to (the member of sprite gAnimationSprite).number + 1</tspan>
<tspan x="27.5" y="5127.7">  end if</tspan>
<tspan x="27.5" y="5145.7">  updateStage()</tspan>
<tspan x="27.5" y="5163.7">on doAnimation2</tspan>
<tspan x="27.5" y="5181.7">  global gAnimationSprite2</tspan>
<tspan x="27.5" y="5199.7">  if (the member of sprite gAnimationSprite2).number = the number of member "End" then</tspan>
<tspan x="27.5" y="5217.7">    set the member of sprite gAnimationSprite2 to (the member of sprite gAnimationSprite2).number</tspan>
<tspan x="27.5" y="5235.7">  else</tspan>
<tspan x="27.5" y="5253.7">    set the member of sprite gAnimationSprite2 to (the member of sprite gAnimationSprite2).number + 1</tspan>
<tspan x="27.5" y="5271.7">  end if</tspan>
<tspan x="27.5" y="5289.7">  updateStage()</tspan>
<tspan x="27.5" y="5307.7">on doAnimation3</tspan>
<tspan x="27.5" y="5325.7">  global gAnimationSprite3</tspan>
<tspan x="27.5" y="5343.7">  if (the member of sprite gAnimationSprite3).number = the number of member "End" then</tspan>
<tspan x="27.5" y="5361.7">    set the member of sprite gAnimationSprite3 to (the member of sprite gAnimationSprite3).number</tspan>
<tspan x="27.5" y="5379.7">  else</tspan>
<tspan x="27.5" y="5397.7">    set the member of sprite gAnimationSprite3 to (the member of sprite gAnimationSprite3).number + 1</tspan>
</text></g>

<g id="panel5-right" clip-path="url(#cr5)"><text xml:space="preserve">
<tspan x="1291" y="4317.7">      sprite(44).visible = 0</tspan>
<tspan x="1291" y="4335.7">      clearCache()</tspan>
<tspan x="1291" y="4353.7">      gOperation4 = 0</tspan>
<tspan x="1291" y="4371.7">    end if</tspan>
<tspan x="1291" y="4389.7">  end if</tspan>
<tspan x="1291" y="4407.7">  if gOperation5 then</tspan>
<tspan x="1291" y="4425.7">    if netDone(gOperation5) then</tspan>
<tspan x="1291" y="4443.7">      if netError(gOperation5) &lt;&gt; "OK" then</tspan>
<tspan x="1291" y="4461.7">        sprite(115).visible = 1</tspan>
<tspan x="1291" y="4479.7">        beep()</tspan>
<tspan x="1291" y="4497.7">        set the member of sprite 95 to 120</tspan>
<tspan x="1291" y="4515.7">      else</tspan>
<tspan x="1291" y="4533.7">        set the member of sprite 95 to 120</tspan>
<tspan x="1291" y="4551.7">        member("aa5").html = member("cc5").text</tspan>
<tspan x="1291" y="4569.7">        member("cc5").text = string(netTextResult(gOperation5))</tspan>
<tspan x="1291" y="4587.7">        member("tt5").html = netTextResult(gOperation5)</tspan>
<tspan x="1291" y="4605.7">        sprite(115).visible = 1</tspan>
<tspan x="1291" y="4623.7">        sprite(110).visible = 1</tspan>
<tspan x="1291" y="4641.7">        puppetSound("sndt3")</tspan>
<tspan x="1291" y="4659.7">        doAnimation5()</tspan>
<tspan x="1291" y="4677.7">        put member("getNetText Five Field").text &amp; " " before char 1 of field "book5"</tspan>
<tspan x="1291" y="4695.7">      end if</tspan>
<tspan x="1291" y="4713.7">      monitorWidth = getAt(getAt(the desktopRectList, 1), 3)</tspan>
<tspan x="1291" y="4731.7">      monitorHeight = getAt(getAt(the desktopRectList, 1), 4)</tspan>
<tspan x="1291" y="4749.7">      h = integer(random(400) / 14) * 14</tspan>
<tspan x="1291" y="4767.7">      set the locH of sprite 100 to monitorWidth - h</tspan>
<tspan x="1291" y="4785.7">      set the locV of sprite 100 to monitorHeight / 2</tspan>
<tspan x="1291" y="4803.7">      member(25).foreColor = 180</tspan>
<tspan x="1291" y="4821.7">      sprite(85).ink = 36</tspan>
<tspan x="1291" y="4839.7">      set the locH of sprite 110 to the locH of sprite 90</tspan>
<tspan x="1291" y="4857.7">      set the locH of sprite 105 to the locH of sprite 75 + the width of sprite 75</tspan>
<tspan x="1291" y="4875.7">      set the locV of sprite 105 to the locV of sprite 75 + the height of sprite 75</tspan>
<tspan x="1291" y="4893.7">      sprite(6).visible = 1</tspan>
<tspan x="1291" y="4911.7">      sprite(15).visible = 0</tspan>
<tspan x="1291" y="4929.7">      sprite(45).visible = 0</tspan>
<tspan x="1291" y="4947.7">      clearCache()</tspan>
<tspan x="1291" y="4965.7">      gOperation5 = 0</tspan>
<tspan x="1291" y="4983.7">    end if</tspan>
<tspan x="1291" y="5001.7">  end if</tspan>
<tspan x="1291" y="5019.7">on doAnimation</tspan>
<tspan x="1291" y="5037.7">  global gAnimationSprite</tspan>
<tspan x="1291" y="5055.7">  if (the member of sprite gAnimationSprite).number = the number of member "End" then</tspan>
<tspan x="1291" y="5073.7">    set the member of sprite gAnimationSprite to (the member of sprite gAnimationSprite).number</tspan>
<tspan x="1291" y="5091.7">  else</tspan>
<tspan x="1291" y="5109.7">    set the member of sprite gAnimationSprite to (the member of sprite gAnimationSprite).number + 1</tspan>
<tspan x="1291" y="5127.7">  end if</tspan>
<tspan x="1291" y="5145.7">  updateStage()</tspan>
<tspan x="1291" y="5163.7">on doAnimation2</tspan>
<tspan x="1291" y="5181.7">  global gAnimationSprite2</tspan>
<tspan x="1291" y="5199.7">  if (the member of sprite gAnimationSprite2).number = the number of member "End" then</tspan>
<tspan x="1291" y="5217.7">    set the member of sprite gAnimationSprite2 to (the member of sprite gAnimationSprite2).number</tspan>
<tspan x="1291" y="5235.7">  else</tspan>
<tspan x="1291" y="5253.7">    set the member of sprite gAnimationSprite2 to (the member of sprite gAnimationSprite2).number + 1</tspan>
<tspan x="1291" y="5271.7">  end if</tspan>
<tspan x="1291" y="5289.7">  updateStage()</tspan>
<tspan x="1291" y="5307.7">on doAnimation3</tspan>
<tspan x="1291" y="5325.7">  global gAnimationSprite3</tspan>
<tspan x="1291" y="5343.7">  if (the member of sprite gAnimationSprite3).number = the number of member "End" then</tspan>
<tspan x="1291" y="5361.7">    set the member of sprite gAnimationSprite3 to (the member of sprite gAnimationSprite3).number</tspan>
<tspan x="1291" y="5379.7">  else</tspan>
<tspan x="1291" y="5397.7">    set the member of sprite gAnimationSprite3 to (the member of sprite gAnimationSprite3).number + 1</tspan>
</text></g>

<g id="panel6-left" clip-path="url(#cl6)"><text xml:space="preserve">
<tspan x="27.5" y="5407.6">on mouseDown</tspan>
<tspan x="27.5" y="5425.6">  repeat with v = 111 to 115</tspan>
<tspan x="27.5" y="5443.6">    sprite(v).visible = 0</tspan>
<tspan x="27.5" y="5461.6">  end repeat</tspan>
<tspan x="27.5" y="5479.6">on mouseUp</tspan>
<tspan x="27.5" y="5497.6">  global gOperation2</tspan>
<tspan x="27.5" y="5515.6">  if the doubleClick then</tspan>
<tspan x="27.5" y="5533.6">    set the locH of sprite 8 to the locH of sprite 57</tspan>
<tspan x="27.5" y="5551.6">    sprite(8).visible = 1</tspan>
<tspan x="27.5" y="5569.6">    sprite(3).visible = 0</tspan>
<tspan x="27.5" y="5587.6">    sprite(42).visible = 1</tspan>
<tspan x="27.5" y="5605.6">    set the member of sprite 92 to 127</tspan>
<tspan x="27.5" y="5623.6">    member(22).foreColor = 255</tspan>
<tspan x="27.5" y="5641.6">    sprite(82).ink = 0</tspan>
<tspan x="27.5" y="5659.6">    member("getNetText Two Field").text = "http://www." &amp; char random(36) of "abcdefghijklmnopqrstuvwxyz1234567890" &amp; char random(</tspan>
<tspan x="27.5" y="5677.6">    member("getNetText 2 Field").text = member("getNetText Two Field").text</tspan>
<tspan x="27.5" y="5695.6">    getNetText(the text of field "getNetText Two Field")</tspan>
<tspan x="27.5" y="5713.6">    gOperation2 = getLatestNetID()</tspan>
<tspan x="27.5" y="5731.6">  end if</tspan>
</text></g>

<g id="panel6-right" clip-path="url(#cr6)"><text xml:space="preserve">
<tspan x="1291" y="5407.6">on mouseDown</tspan>
<tspan x="1291" y="5425.6">  v = 111</tspan>
<tspan x="1291" y="5443.6">  repeat while v &lt;= 115</tspan>
<tspan x="1291" y="5461.6">    sprite(v).visible = 0</tspan>
<tspan x="1291" y="5479.6">    v = 1 + v</tspan>
<tspan x="1291" y="5497.6">  end repeat</tspan>
<tspan x="1291" y="5515.6">on mouseUp</tspan>
<tspan x="1291" y="5533.6">  global gOperation5</tspan>
<tspan x="1291" y="5551.6">  if the doubleClick then</tspan>
<tspan x="1291" y="5569.6">    sprite(6).visible = 0</tspan>
<tspan x="1291" y="5587.6">    sprite(45).visible = 1</tspan>
<tspan x="1291" y="5605.6">    set the member of sprite 95 to 130</tspan>
<tspan x="1291" y="5623.6">    member(25).foreColor = 255</tspan>
<tspan x="1291" y="5641.6">    sprite(85).ink = 0</tspan>
<tspan x="1291" y="5659.6">    member("getNetText Five Field").text = "http://www." &amp; char random(36) of "abcdefghijklmnopqrstuvwxyz1234567890" &amp; char random</tspan>
<tspan x="1291" y="5677.6">    member("getNetText 5 Field").text = member("getNetText Five Field").text</tspan>
<tspan x="1291" y="5695.6">    getNetText(the text of field "getNetText Five Field")</tspan>
<tspan x="1291" y="5713.6">    gOperation5 = getLatestNetID()</tspan>
<tspan x="1291" y="5731.6">  end if</tspan>
</text></g>

<g id="panel7-left" clip-path="url(#cl7)"><text xml:space="preserve">
<tspan x="27.5" y="5811.8">on mouseDown</tspan>
<tspan x="27.5" y="5829.8">  repeat with v = 111 to 115</tspan>
<tspan x="27.5" y="5847.8">    sprite(v).visible = 0</tspan>
<tspan x="27.5" y="5865.8">  end repeat</tspan>
<tspan x="27.5" y="5883.8">on mouseUp</tspan>
<tspan x="27.5" y="5901.8">  global gOperation1</tspan>
<tspan x="27.5" y="5919.8">  if the doubleClick then</tspan>
<tspan x="27.5" y="5937.8">    set the locH of sprite 7 to the locH of sprite 56</tspan>
<tspan x="27.5" y="5955.8">    sprite(7).visible = 1</tspan>
<tspan x="27.5" y="5973.8">    sprite(2).visible = 0</tspan>
</text></g>

<g id="panel7-right" clip-path="url(#cr7)"><text xml:space="preserve">
<tspan x="1291.5" y="5811.8">on mouseDown</tspan>
<tspan x="1291.5" y="5829.8">  v = 111</tspan>
<tspan x="1291.5" y="5847.8">  repeat while v &lt;= 115</tspan>
<tspan x="1291.5" y="5865.8">    sprite(v).visible = 0</tspan>
<tspan x="1291.5" y="5883.8">    v = 1 + v</tspan>
<tspan x="1291.5" y="5901.8">  end repeat</tspan>
<tspan x="1291.5" y="5919.8">on mouseUp</tspan>
<tspan x="1291.5" y="5937.8">  global gOperation1</tspan>
<tspan x="1291.5" y="5955.8">  if the doubleClick then</tspan>
<tspan x="1291.5" y="5973.8">    set the locH of sprite 7 to the locH of sprite 56</tspan>
</text></g>

<g id="panel8-left" clip-path="url(#cl8)"><text xml:space="preserve">
<tspan x="32.5" y="5995.7">    getNetText(the text of field "getNetText 4 Field")</tspan>
<tspan x="32.5" y="6013.7">    gOperation4 = getLatestNetID()</tspan>
<tspan x="32.5" y="6031.7">  else</tspan>
<tspan x="32.5" y="6049.7">    if k = SPACE then</tspan>
<tspan x="32.5" y="6067.7">      stopEvent()</tspan>
<tspan x="32.5" y="6085.7">    else</tspan>
<tspan x="32.5" y="6103.7">      pass()</tspan>
<tspan x="32.5" y="6121.7">    end if</tspan>
<tspan x="32.5" y="6139.7">  end if</tspan>
<tspan x="32.5" y="6157.7">txt4b</tspan>
<tspan x="32.5" y="6193.7">on keyDown</tspan>
<tspan x="32.5" y="6211.7">  global gOperation5</tspan>
<tspan x="32.5" y="6229.7">  k = the key</tspan>
<tspan x="32.5" y="6247.7">  if k = RETURN then</tspan>
<tspan x="32.5" y="6265.7">    member(25).foreColor = 255</tspan>
<tspan x="32.5" y="6283.7">    sprite(85).ink = 0</tspan>
<tspan x="32.5" y="6301.7">    sprite(6).visible = 0</tspan>
<tspan x="32.5" y="6319.7">    sprite(45).visible = 1</tspan>
<tspan x="32.5" y="6337.7">    set the member of sprite 95 to 130</tspan>
<tspan x="32.5" y="6355.7">    member("getNetText Five Field").text = member("getNetText 5 Field").text</tspan>
<tspan x="32.5" y="6373.7">    getNetText(the text of field "getNetText 5 Field")</tspan>
<tspan x="32.5" y="6391.7">    gOperation5 = getLatestNetID()</tspan>
<tspan x="32.5" y="6409.7">  else</tspan>
<tspan x="32.5" y="6427.7">    if k = SPACE then</tspan>
<tspan x="32.5" y="6445.7">      stopEvent()</tspan>
<tspan x="32.5" y="6463.7">    else</tspan>
<tspan x="32.5" y="6481.7">      pass()</tspan>
<tspan x="32.5" y="6499.7">    end if</tspan>
<tspan x="32.5" y="6517.7">  end if</tspan>
<tspan x="32.5" y="6535.7">txt5b</tspan>
<tspan x="32.5" y="6571.7">on mouseDown</tspan>
<tspan x="32.5" y="6589.7">  global gOperation1, gOperation2, gOperation3, gOperation4, gOperation5</tspan>
<tspan x="32.5" y="6607.7">  netAbort(gOperation1)</tspan>
<tspan x="32.5" y="6625.7">  netAbort(gOperation2)</tspan>
<tspan x="32.5" y="6643.7">  netAbort(gOperation3)</tspan>
<tspan x="32.5" y="6661.7">  netAbort(gOperation4)</tspan>
<tspan x="32.5" y="6679.7">  netAbort(gOperation5)</tspan>
<tspan x="32.5" y="6697.7">quit</tspan>
<tspan x="32.5" y="6733.7">on mouseDown</tspan>
<tspan x="32.5" y="6751.7">  repeat with v = 111 to 115</tspan>
<tspan x="32.5" y="6769.7">    sprite(v).visible = 0</tspan>
<tspan x="32.5" y="6787.7">  end repeat</tspan>
<tspan x="32.5" y="6805.7">on mouseUp</tspan>
<tspan x="32.5" y="6823.7">  global gOperation1</tspan>
<tspan x="32.5" y="6841.7">  if the doubleClick then</tspan>
<tspan x="32.5" y="6859.7">    set the locH of sprite 7 to the locH of sprite 56</tspan>
<tspan x="32.5" y="6877.7">    sprite(7).visible = 1</tspan>
<tspan x="32.5" y="6895.7">    sprite(2).visible = 0</tspan>
<tspan x="32.5" y="6913.7">    sprite(41).visible = 1</tspan>
<tspan x="32.5" y="6931.7">    set the member of sprite 91 to 126</tspan>
<tspan x="32.5" y="6949.7">    member(21).foreColor = 255</tspan>
<tspan x="32.5" y="6967.7">    sprite(81).ink = 0</tspan>
<tspan x="32.5" y="6985.7">    member("getNetText One Field").text = "http://www." &amp; char random(36) of "abcdefghijklmnopqrstuvwxyz1234567890" &amp; char random(</tspan>
<tspan x="32.5" y="7003.7">    member("getNetText 1 Field").text = member("getNetText One Field").text</tspan>
<tspan x="32.5" y="7021.7">    getNetText(the text of field "getNetText One Field")</tspan>
<tspan x="32.5" y="7039.7">    gOperation1 = getLatestNetID()</tspan>
<tspan x="32.5" y="7057.7">  end if</tspan>
</text></g>

<g id="panel8-right" clip-path="url(#cr8)"><text xml:space="preserve">
<tspan x="1296.5" y="5989.4">    set the member of sprite 91 to 126</tspan>
<tspan x="1296.5" y="6007.4">    member(21).foreColor = 255</tspan>
<tspan x="1296.5" y="6025.4">    sprite(81).ink = 0</tspan>
<tspan x="1296.5" y="6043.4">    member("getNetText One Field").text = "http://www." &amp; char random(36) of "abcdefghijklmnopqrstuvwxyz1234567890" &amp; char random(</tspan>
<tspan x="1296.5" y="6061.4">    member("getNetText 1 Field").text = member("getNetText One Field").text</tspan>
<tspan x="1296.5" y="6079.4">    getNetText(the text of field "getNetText One Field")</tspan>
<tspan x="1296.5" y="6097.4">    gOperation1 = getLatestNetID()</tspan>
<tspan x="1296.5" y="6115.4">  end if</tspan>
<tspan x="1296.5" y="6151.4">on mouseDown</tspan>
<tspan x="1296.5" y="6169.4">  v = 111</tspan>
<tspan x="1296.5" y="6187.4">  repeat while v &lt;= 115</tspan>
<tspan x="1296.5" y="6205.4">    sprite(v).visible = 0</tspan>
<tspan x="1296.5" y="6223.4">    v = 1 + v</tspan>
<tspan x="1296.5" y="6241.4">  end repeat</tspan>
<tspan x="1296.5" y="6259.4">on mouseUp</tspan>
<tspan x="1296.5" y="6277.4">  global gOperation2</tspan>
<tspan x="1296.5" y="6295.4">  if the doubleClick then</tspan>
<tspan x="1296.5" y="6313.4">    set the locH of sprite 8 to the locH of sprite 57</tspan>
<tspan x="1296.5" y="6331.4">    sprite(8).visible = 1</tspan>
<tspan x="1296.5" y="6349.4">    sprite(3).visible = 0</tspan>
<tspan x="1296.5" y="6367.4">    sprite(42).visible = 1</tspan>
<tspan x="1296.5" y="6385.4">    set the member of sprite 92 to 127</tspan>
<tspan x="1296.5" y="6403.4">    member(22).foreColor = 255</tspan>
<tspan x="1296.5" y="6421.4">    sprite(82).ink = 0</tspan>
<tspan x="1296.5" y="6439.4">    member("getNetText Two Field").text = "http://www." &amp; char random(36) of "abcdefghijklmnopqrstuvwxyz1234567890" &amp; char random(</tspan>
<tspan x="1296.5" y="6457.4">    member("getNetText 2 Field").text = member("getNetText Two Field").text</tspan>
<tspan x="1296.5" y="6475.4">    getNetText(the text of field "getNetText Two Field")</tspan>
<tspan x="1296.5" y="6493.4">    gOperation2 = getLatestNetID()</tspan>
<tspan x="1296.5" y="6511.4">  end if</tspan>
<tspan x="1296.5" y="6547.4">on mouseDown</tspan>
<tspan x="1296.5" y="6565.4">  v = 111</tspan>
<tspan x="1296.5" y="6583.4">  repeat while v &lt;= 115</tspan>
<tspan x="1296.5" y="6601.4">    sprite(v).visible = 0</tspan>
<tspan x="1296.5" y="6619.4">    v = 1 + v</tspan>
<tspan x="1296.5" y="6637.4">  end repeat</tspan>
<tspan x="1296.5" y="6655.4">on mouseUp</tspan>
<tspan x="1296.5" y="6673.4">  global gOperation3</tspan>
<tspan x="1296.5" y="6691.4">  if the doubleClick then</tspan>
<tspan x="1296.5" y="6709.4">    set the locH of sprite 9 to the locH of sprite 58</tspan>
<tspan x="1296.5" y="6727.4">    sprite(9).visible = 1</tspan>
<tspan x="1296.5" y="6745.4">    sprite(4).visible = 0</tspan>
<tspan x="1296.5" y="6763.4">    sprite(43).visible = 1</tspan>
<tspan x="1296.5" y="6781.4">    set the member of sprite 93 to 128</tspan>
<tspan x="1296.5" y="6799.4">    member(23).foreColor = 0</tspan>
<tspan x="1296.5" y="6817.4">    sprite(83).ink = 0</tspan>
<tspan x="1296.5" y="6835.4">    member("getNetText Three Field").text = "http://www." &amp; char random(36) of "abcdefghijklmnopqrstuvwxyz1234567890" &amp; char random</tspan>
<tspan x="1296.5" y="6853.4">    member("getNetText 3 Field").text = member("getNetText Three Field").text</tspan>
<tspan x="1296.5" y="6871.4">    getNetText(the text of field "getNetText Three Field")</tspan>
<tspan x="1296.5" y="6889.4">    gOperation3 = getLatestNetID()</tspan>
<tspan x="1296.5" y="6907.4">  end if</tspan>
<tspan x="1296.5" y="6943.4">on mouseDown</tspan>
<tspan x="1296.5" y="6961.4">  v = 111</tspan>
<tspan x="1296.5" y="6979.4">  repeat while v &lt;= 115</tspan>
<tspan x="1296.5" y="6997.4">    sprite(v).visible = 0</tspan>
<tspan x="1296.5" y="7015.4">    v = 1 + v</tspan>
<tspan x="1296.5" y="7033.4">  end repeat</tspan>
<tspan x="1296.5" y="7051.4">on mouseUp</tspan>
</text></g>

<g id="gutter-icons">
<use xlink:href="#al" x="1280" y="66"/>
<use xlink:href="#ar" x="1206" y="1330.6"/>
<use xlink:href="#ar" x="1206" y="2347.7"/><use xlink:href="#al" x="1280" y="2347.7"/>
<use xlink:href="#ar" x="1206" y="2383.7"/><use xlink:href="#al" x="1280" y="2383.7"/>
<use xlink:href="#ar" x="1206" y="2977.7"/><use xlink:href="#al" x="1280" y="2977.7"/>
<use xlink:href="#ar" x="1206" y="3013.7"/><use xlink:href="#al" x="1280" y="3013.7"/>
<use xlink:href="#ar" x="1203" y="3387.8"/><use xlink:href="#al" x="1276" y="3387.8"/>
<use xlink:href="#ar" x="1203" y="3423.8"/><use xlink:href="#al" x="1276" y="3423.8"/>
<use xlink:href="#ar" x="1203" y="4017.8"/><use xlink:href="#al" x="1276" y="4017.8"/>
<use xlink:href="#ar" x="1203" y="4053.8"/><use xlink:href="#al" x="1276" y="4053.8"/>
<use xlink:href="#ar" x="1207" y="4546.7"/><use xlink:href="#al" x="1279" y="4546.7"/>
<use xlink:href="#ar" x="1207" y="4582.7"/><use xlink:href="#al" x="1279" y="4582.7"/>
<use xlink:href="#ar" x="1207" y="5420.6"/><use xlink:href="#ar" x="1207" y="5492.6"/><use xlink:href="#ar" x="1207" y="5528.6"/>
<use xlink:href="#al" x="1279" y="5420.6"/><use xlink:href="#al" x="1279" y="5474.6"/><use xlink:href="#al" x="1279" y="5528.6"/><use xlink:href="#al" x="1279" y="5564.6"/>
<use xlink:href="#ar" x="1207" y="5824.8"/>
<use xlink:href="#al" x="1279" y="5824.8"/><use xlink:href="#al" x="1279" y="5878.8"/>
<use xlink:href="#al" x="1284" y="6110.4"/>
<use xlink:href="#ar" x="1212" y="6746.7"/>
<g class="nl">
<use xlink:href="#nl" x="508" y="5528.6"/>
<use xlink:href="#nl" x="255" y="5546.6"/>
<use xlink:href="#nl" x="1374" y="5420.6"/>
<use xlink:href="#nl" x="1375" y="5824.8"/>
</g>
<rect x="1291.8" y="5411.6" width="1.3" height="18" fill="#000"/>
<rect x="1292.3" y="5815.8" width="1.3" height="18" fill="#000"/>
</g>
</svg>
